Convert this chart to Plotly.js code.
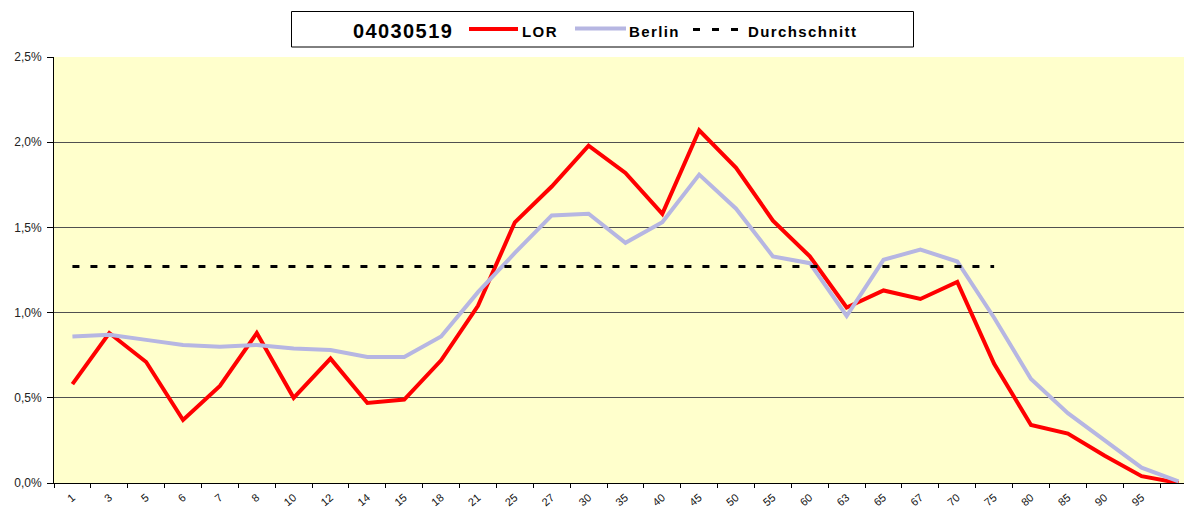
<!DOCTYPE html>
<html>
<head>
<meta charset="utf-8">
<script src="https://cdn.plot.ly/plotly-3.0.1.min.js"></script>
<style>
  html, body { margin: 0; padding: 0; background: #ffffff; }
  #chart { width: 1184px; height: 509px; }
  .annotation-text { letter-spacing: 1.4px; }
</style>
</head>
<body>
<div id="chart"></div>
<script>
// Age group labels (last category has no visible label)
const ageLabels = ['1','3','5','6','7','8','10','12','14','15','18','21','25','27','30','35','40','45','50','55','60','63','65','67','70','75','80','85','90','95',' '];

// Share of population per age group, in percent
const lorValues = [0.58,0.88,0.71,0.37,0.57,0.88,0.50,0.73,0.47,0.49,0.72,1.04,1.53,1.74,1.98,1.82,1.58,2.07,1.85,1.54,1.33,1.03,1.13,1.08,1.18,0.70,0.34,0.29,0.16,0.04,0.00];
const berlinValues = [0.86,0.87,0.84,0.81,0.80,0.81,0.79,0.78,0.74,0.74,0.86,1.12,1.35,1.57,1.58,1.41,1.53,1.81,1.61,1.33,1.29,0.98,1.31,1.37,1.30,0.97,0.61,0.41,0.25,0.09,0.01];
const avgLabels = ageLabels.slice(0, 26);
const avgValues = [1.27,1.27,1.27,1.27,1.27,1.27,1.27,1.27,1.27,1.27,1.27,1.27,1.27,1.27,1.27,1.27,1.27,1.27,1.27,1.27,1.27,1.27,1.27,1.27,1.27,1.27];

const legendTitle = '04030519';
const seriesNames = ['LOR', 'Berlin', 'Durchschnitt'];
const seriesColors = ['#ff0000', '#b6b6e2', '#000000'];

const W = 1184, H = 509;
const M = { l: 54, r: 0, t: 57, b: 26 };
const plotW = W - M.l - M.r, plotH = H - M.t - M.b;
// convert page pixels to paper coordinates (for the boxed legend above the plot)
const px = v => (v - M.l) / plotW;
const py = v => (H - M.b - v) / plotH;

const traces = [
  { type: 'scatter', mode: 'lines', name: seriesNames[0], x: ageLabels, y: lorValues,
    line: { color: seriesColors[0], width: 4 } },
  { type: 'scatter', mode: 'lines', name: seriesNames[1], x: ageLabels, y: berlinValues,
    line: { color: seriesColors[1], width: 4 } },
  { type: 'scatter', mode: 'lines', name: seriesNames[2], x: avgLabels, y: avgValues,
    line: { color: seriesColors[2], width: 3, dash: '7px,11px' } }
];

const legendFont = { family: 'Liberation Sans, Arial, sans-serif', size: 15, weight: 'bold', color: '#000000' };

const shapes = [
  { type: 'rect', xref: 'paper', yref: 'paper', x0: px(291.5), x1: px(913.5), y0: py(47), y1: py(11.5),
    line: { color: '#000000', width: 1 }, fillcolor: '#ffffff', layer: 'above' },
  { type: 'line', xref: 'paper', yref: 'paper', x0: px(469), x1: px(518), y0: py(29), y1: py(29),
    line: { color: seriesColors[0], width: 4 } },
  { type: 'line', xref: 'paper', yref: 'paper', x0: px(575), x1: px(626), y0: py(28.5), y1: py(28.5),
    line: { color: seriesColors[1], width: 4 } },
  { type: 'line', xref: 'paper', yref: 'paper', x0: px(693), x1: px(738), y0: py(29.5), y1: py(29.5),
    line: { color: seriesColors[2], width: 3, dash: '7px,12px' } }
];

const annotations = [
  { text: legendTitle, xref: 'paper', yref: 'paper', x: px(352), y: py(30.5), xanchor: 'left', yanchor: 'middle',
    showarrow: false, borderpad: 0, font: { family: 'Liberation Sans, Arial, sans-serif', size: 20, weight: 'bold', color: '#000000' } },
  { text: seriesNames[0], xref: 'paper', yref: 'paper', x: px(521), y: py(31), xanchor: 'left', yanchor: 'middle',
    showarrow: false, borderpad: 0, font: legendFont },
  { text: seriesNames[1], xref: 'paper', yref: 'paper', x: px(628), y: py(31), xanchor: 'left', yanchor: 'middle',
    showarrow: false, borderpad: 0, font: legendFont },
  { text: seriesNames[2], xref: 'paper', yref: 'paper', x: px(747), y: py(31), xanchor: 'left', yanchor: 'middle',
    showarrow: false, borderpad: 0, font: legendFont }
];

const layout = {
  width: W, height: H,
  margin: M,
  paper_bgcolor: '#ffffff',
  plot_bgcolor: '#ffffcc',
  separators: ',.',
  font: { family: 'Liberation Sans, Arial, sans-serif', color: '#000000' },
  showlegend: false,
  shapes: shapes,
  annotations: annotations,
  xaxis: {
    type: 'category',
    categoryorder: 'array', categoryarray: ageLabels,
    range: [-0.5, 30.15],
    tickson: 'boundaries',
    ticks: 'outside', ticklen: 4, tickcolor: '#000000',
    ticklabelstandoff: 3,
    showline: true, linecolor: '#000000', linewidth: 1,
    showgrid: false, zeroline: false,
    tickangle: -40,
    tickfont: { size: 11, color: '#111111' },
    fixedrange: true
  },
  yaxis: {
    range: [0, 2.5],
    dtick: 0.5, tick0: 0,
    tickformat: '.1f', ticksuffix: '%',
    ticks: 'outside', ticklen: 6, tickcolor: '#000000',
    ticklabelstandoff: 3,
    showline: true, linecolor: '#000000', linewidth: 1,
    showgrid: true, gridcolor: '#505050', gridwidth: 1,
    zeroline: false,
    tickfont: { size: 12, color: '#222222' },
    fixedrange: true
  }
};

Plotly.newPlot('chart', traces, layout, { staticPlot: true, displayModeBar: false });
</script>
</body>
</html>
